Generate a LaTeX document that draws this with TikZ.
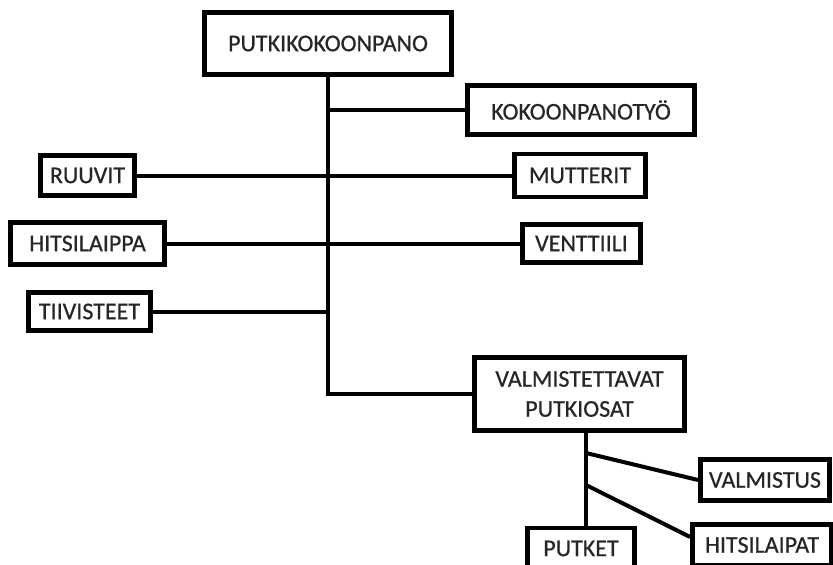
\documentclass[tikz,border=0pt]{standalone}
\usepackage{fontspec}
\setmainfont{Carlito}
\newfontfamily\partfont{Carlito}[RawFeature={embolden=0.6}]
\usepackage{tikz}
\usetikzlibrary{positioning, calc}

\begin{document}
\begin{tikzpicture}[
    x=1pt, y=-1pt,
    part/.style={
        draw=black,
        fill=white,
        line width=4.8pt,
        inner sep=0pt,
        align=center,
        text=black!85,
        font=\partfont\fontsize{24}{30}\selectfont
    },
    link/.style={
        draw=black,
        line width=4pt
    }
]

    % Canvas
    \clip (0,0) rectangle (833,565);
    \fill[white] (0,0) rectangle (833,565);

    % Main assembly
    \node[part, minimum width=247pt, minimum height=62pt] (assembly) at (328, 43.5) {PUTKIKOKOONPANO};

    % Right column
    \node[part, minimum width=227pt, minimum height=49pt] (work) at (581, 110) {KOKOONPANOTYÖ};
    \node[part, minimum width=131pt, minimum height=43pt] (nuts) at (580, 175.5) {MUTTERIT};
    \node[part, minimum width=118pt, minimum height=38pt] (valve) at (581.5, 243.5) {VENTTIILI};

    % Left column
    \node[part, minimum width=94pt, minimum height=40pt] (screws) at (87.5, 175.5) {RUUVIT};
    \node[part, minimum width=154pt, minimum height=42pt] (flange) at (87.5, 243.5) {HITSILAIPPA};
    \node[part, minimum width=122pt, minimum height=38pt] (seals) at (89.5, 311.5) {TIIVISTEET};

    % Manufactured pipe parts
    \node[part, minimum width=210pt, minimum height=73pt] (pipeparts) at (579.5, 394) {VALMISTETTAVAT\\PUTKIOSAT};
    \node[part, minimum width=129pt, minimum height=41pt] (making) at (765, 480) {VALMISTUS};
    \node[part, minimum width=139pt, minimum height=41pt] (flanges) at (762, 545) {HITSILAIPAT};
    \node[part, minimum width=107pt, minimum height=41pt] (pipes) at (581, 548.5) {PUTKET};

    % Junctions
    \coordinate (sub) at ([xshift=6.5pt]pipeparts.south);
    \coordinate (j1) at (586, 453);
    \coordinate (j2) at (586, 485);

    % Connections
    \draw[link] (assembly.south) -- (assembly.south |- pipeparts.west) -- (pipeparts.west);
    \draw[link] (work.west) -- (work.west -| assembly.south);
    \draw[link] (screws.east) -- (nuts.west);
    \draw[link] (flange.east) -- (valve.west);
    \draw[link] (seals.east) -- (seals.east -| assembly.south);

    \draw[link] (sub) -- (sub |- pipes.north);
    \draw[link] (j1) -- (making.west);
    \draw[link] (j2) -- ([yshift=8pt]flanges.west);

\end{tikzpicture}
\end{document}
